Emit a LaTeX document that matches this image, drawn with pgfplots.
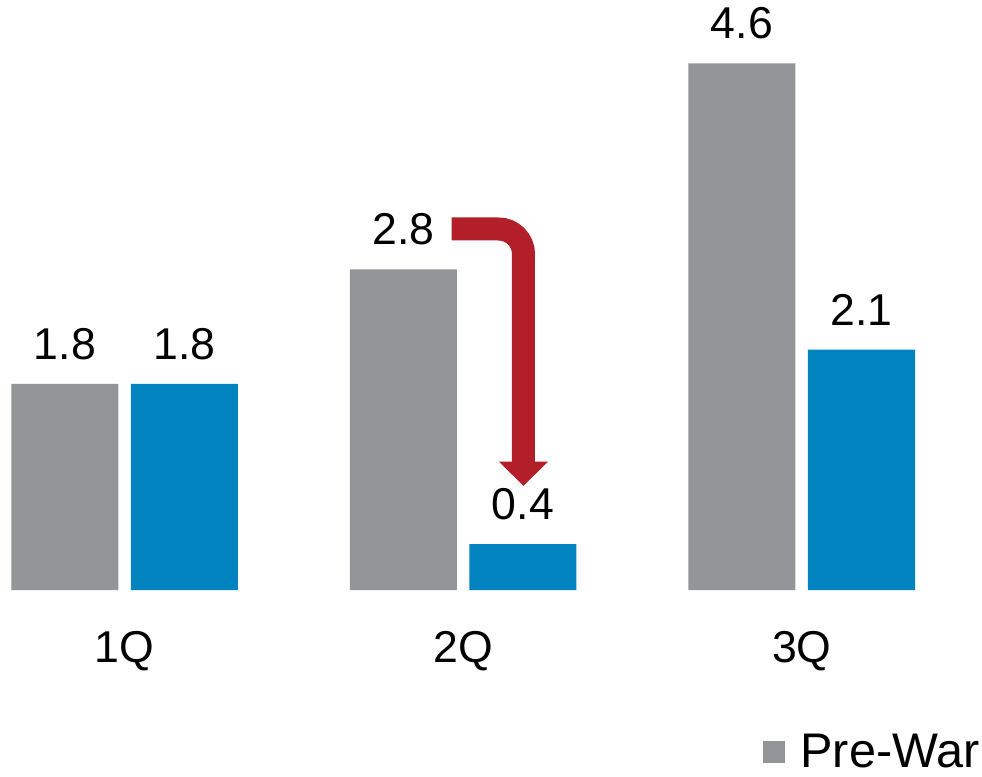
\documentclass[border=0pt]{standalone}
\usepackage{pgfplots}
\pgfplotsset{compat=1.18}
\usepackage{fontspec}
\setmainfont{Liberation Sans}
\definecolor{prewar}{HTML}{939598}
\definecolor{postwar}{HTML}{0083BE}
\definecolor{drop}{HTML}{B21F28}

\begin{document}
\begin{tikzpicture}
\begin{axis}[
    scale only axis,
    width=491pt, height=388.5pt,
    xmin=-0.3685, xmax=2.5325,
    ymin=-1.633, ymax=5.153,
    axis line style={draw=none},
    major tick length=0pt,
    ytick=\empty,
    xtick={0,1,2},
    xticklabels={1Q,2Q,3Q},
    xticklabel style={font=\fontsize{22.3}{26}\selectfont, anchor=base, yshift=57pt},
    ybar, bar width=53.5pt,
    clip=false,
    nodes near coords,
    every node near coord/.append style={font=\fontsize{22.3}{26}\selectfont, inner sep=0pt, anchor=south, yshift=12pt},
    /pgf/number format/.cd, fixed, fixed zerofill, precision=1, assume math mode=true,
    /pgfplots/.cd,
    legend style={draw=none, fill=none, inner sep=0pt, at={(rel axis cs:0.777,0.008)}, anchor=south west,
        font=\fontsize{24.3}{28}\selectfont, nodes={inner sep=0pt, inner xsep=7.5pt}},
    legend image code/.code={\fill[#1] (0pt,-5.5pt) rectangle (11pt,5.5pt);},
]
% Pre-war forecast
\addplot[fill=prewar, draw=none, bar shift=-29.875pt] coordinates {(0,1.8) (1,2.8) (2,4.6)};
\addlegendentry{Pre-War}
% Revised forecast
\addplot[fill=postwar, draw=none, bar shift=29.875pt, forget plot] coordinates {(0,1.8) (1,0.4) (2,2.1)};
% Downgrade arrow for 2Q
\draw[drop, line width=11.5pt, rounded corners=12.5pt]
    (axis cs:0.9659,3.153) -- (axis cs:1.178,3.153) -- (axis cs:1.178,1.10);
\fill[drop] (axis cs:1.1056,1.1205) -- (axis cs:1.2504,1.1205) -- (axis cs:1.178,0.910) -- cycle;
\end{axis}
\pgfresetboundingbox
\useasboundingbox (current axis.south west) rectangle (current axis.north east);
\end{tikzpicture}
\end{document}
